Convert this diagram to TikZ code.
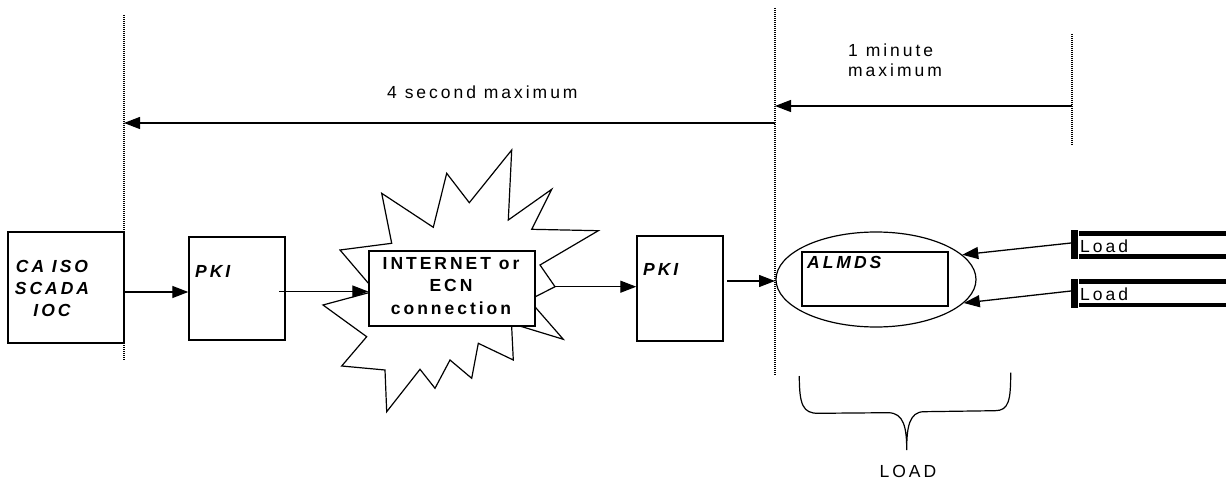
\documentclass[tikz,border=0pt]{standalone}
\usepackage{fontspec}
\newfontfamily\lbl{Liberation Sans}[LetterSpace=17]
\usetikzlibrary{arrows.meta,shapes.geometric}
\begin{document}
\begin{tikzpicture}[x=1pt,y=-1pt,
  box/.style={draw,line width=1.4pt,inner sep=0pt},
  arr/.style={line width=1.3pt,-{Triangle[length=16pt,width=12pt]}},
  guide/.style={line width=1.2pt,dash pattern=on 1pt off 1pt},
  plain/.style={font=\lbl\fontsize{17.5}{21}\selectfont,inner sep=0pt},
  bi/.style={font=\lbl\fontsize{17.5}{21}\selectfont\bfseries\itshape,inner sep=0pt},
  bu/.style={font=\lbl\fontsize{17.5}{21}\selectfont\bfseries,inner sep=0pt},
  bar/.style={fill=black,draw=none},
]
\useasboundingbox (0,0) rectangle (1226,481);

% timing guides
\coordinate (g1t) at (124,15);   \coordinate (g1b) at (124,360);
\coordinate (g2t) at (775,8);    \coordinate (g2b) at (775,375);
\coordinate (g3t) at (1072,34);  \coordinate (g3b) at (1072,145);
\draw[guide] (g1t) -- (g1b);
\draw[guide] (g2t) -- (g2b);
\draw[guide] (g3t) -- (g3b);

\coordinate (m1) at (1072,106);
\coordinate (m2) at (775,123);
\draw[arr] (m1) -- (m1 -| g2t);
\draw[arr] (m2) -- (m2 -| g1t);
\node[plain,anchor=base west] (tmin1) at (848,57) {1 minute};
\node[plain,anchor=base west] (tmin2) at (848,76.7) {maximum};
\node[plain,anchor=base west] (tsec) at (387,99) {4 second maximum};

% CA ISO source
\node[box,minimum width=116pt,minimum height=111pt] (caiso) at (66,287.5) {};
\node[bi,anchor=base] (ca1) at (52,272.3) {CA ISO};
\node[bi,anchor=base] (ca2) at (52,294) {SCADA};
\node[bi,anchor=base] (ca3) at (52,316.7) {IOC};

% first PKI
\node[box,minimum width=96pt,minimum height=103pt] (pki1) at (237,288.5) {};
\node[bi,anchor=base west] (pki1t) at (195,277.7) {PKI};

% network burst
\draw[line width=1.2pt,line join=miter]
  (511.7,150) -- (508.3,220) -- (551.7,189.3) -- (531.7,229.3) -- (598.3,230.7)
  -- (540,265) -- (555,286.7) -- (529,300) -- (563.3,339.3) -- (511.5,323.5)
  -- (513.3,360) -- (478.3,343.3) -- (471.7,378.3) -- (450,360) -- (435,388.3)
  -- (420,369.3) -- (386.7,411.7) -- (385,370) -- (341.7,366) -- (366.7,336.7)
  -- (323,305) -- (375,291) -- (340,250) -- (391.7,243.3) -- (381.7,193.3)
  -- (433.3,227.3) -- (446.7,173.3) -- (469.3,202.7) -- cycle;
\coordinate (bout) at (555,286.7);
\node[box,fill=white,minimum width=166pt,minimum height=75pt] (net) at (452,288.5) {};
\node[bu,anchor=base] (net1) at (451,269.3) {INTERNET or};
\node[bu,anchor=base] (net2) at (451,291.7) {ECN};
\node[bu,anchor=base] (net3) at (451,314.3) {connection};

% second PKI
\node[box,minimum width=86pt,minimum height=105pt] (pki2) at (680,288.5) {};
\node[bi,anchor=base west] (pki2t) at (643,275.7) {PKI};

% ALMDS
\node[draw,ellipse,line width=1.2pt,inner sep=0pt,minimum width=200pt,minimum height=95pt] (ell) at (876,279.5) {};
\node[box,minimum width=146pt,minimum height=54pt] (almds) at (875,279) {};
\node[bi,anchor=base west] (almdst) at (807,268.3) {ALMDS};

% loads
\fill[bar] (1071,230) rectangle (1078,259);
\fill[bar] (1079,231) rectangle (1226,235.7);
\fill[bar] (1079,254.3) rectangle (1226,259);
\node[plain,anchor=base west] (load1) at (1080,252.3) {Load};
\fill[bar] (1071,279.3) rectangle (1078,307.7);
\fill[bar] (1079,279.3) rectangle (1226,283.7);
\fill[bar] (1079,302.7) rectangle (1226,307.3);
\node[plain,anchor=base west] (load2) at (1080,300) {Load};
\coordinate (l1) at (1071,243);
\coordinate (l2) at (1071,291);

% connectors
\coordinate (ya) at (0,292);
\coordinate (pk1out) at (279,291.5);
\coordinate (pk2out) at (727,281);
\draw[arr] (caiso.east |- ya) -- (pki1.west |- ya);
\draw[arr] (pk1out) -- (net.west |- pk1out);
\draw[arr] (bout) -- (pki2.west |- bout);
\draw[arr] (pk2out) -- (pk2out -| g2t);
\draw[arr] (l1) -- (ell.16);
\draw[arr] (l2) -- (ell.-15);

% brace over the load group
\draw[line width=1.2pt]
  (799.3,376) .. controls (799.3,405) and (803,413.3) .. (818,413.3)
  -- (888,412.7) .. controls (904,412.7) and (906.7,428) .. (906.7,450)
  .. controls (906.7,428) and (909,411.7) .. (924,411.7)
  -- (995,410.7) .. controls (1009,410.7) and (1010.7,400) .. (1010.7,372.7);
\node[plain,anchor=base] (loadt) at (908,477.3) {LOAD};
\end{tikzpicture}
\end{document}
